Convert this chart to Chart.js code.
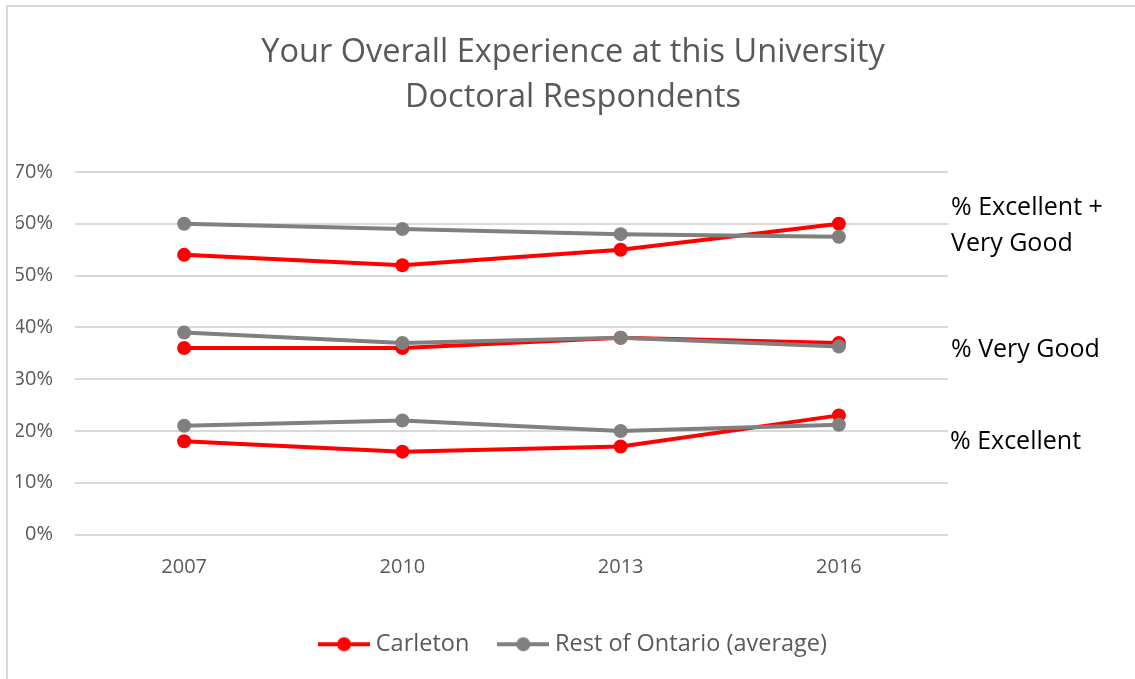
<!DOCTYPE html>
<html>
<head>
<meta charset="utf-8">
<script src="https://cdn.jsdelivr.net/npm/chart.js@4.4.0/dist/chart.umd.min.js"></script>
<style>
  html, body { margin: 0; padding: 0; background: #fff; }
  #wrap { width: 1135px; height: 679px; }
</style>
</head>
<body>
<div id="wrap"><canvas id="chart" width="1135" height="679"></canvas></div>
<script>
// values (percent)
const years = ['2007', '2010', '2013', '2016'];
const seriesNames = ['Carleton', 'Rest of Ontario (average)'];
const titleLines = ['Your Overall Experience at this University', 'Doctoral Respondents'];
const rowLabels = [['% Excellent +', 'Very Good'], ['% Very Good'], ['% Excellent']];

const carletonExcVg = [54, 52, 55, 60];
const ontarioExcVg = [60, 59, 58, 57.5];
const carletonVg = [36, 36, 38, 37];
const ontarioVg = [39, 37, 38, 36.3];
const carletonExc = [18, 16, 17, 23];
const ontarioExc = [21, 22, 20, 21.2];

const RED = '#ff0000';
const GREY = '#808080';
const FONT = '"Open Sans", "Liberation Sans", sans-serif';

function lineSet(label, data, color) {
  return {
    label: label,
    data: data,
    borderColor: color,
    backgroundColor: color,
    borderWidth: 4,
    pointRadius: 7,
    pointHoverRadius: 7,
    pointBorderWidth: 0,
    tension: 0,
  };
}

// grey first so it is drawn on top of the red
const datasets = [
  lineSet(seriesNames[1], ontarioExcVg, GREY),
  lineSet(seriesNames[1], ontarioVg, GREY),
  lineSet(seriesNames[1], ontarioExc, GREY),
  lineSet(seriesNames[0], carletonExcVg, RED),
  lineSet(seriesNames[0], carletonVg, RED),
  lineSet(seriesNames[0], carletonExc, RED),
];

// little line + dot used as the legend symbol
function legendSymbol(color) {
  const c = document.createElement('canvas');
  c.width = 52;
  c.height = 16;
  const g = c.getContext('2d');
  g.strokeStyle = color;
  g.lineWidth = 4;
  g.beginPath();
  g.moveTo(0, 8);
  g.lineTo(52, 8);
  g.stroke();
  g.fillStyle = color;
  g.beginPath();
  g.arc(26, 8, 7, 0, Math.PI * 2);
  g.fill();
  return c;
}

const extras = {
  id: 'extras',
  afterDraw(chart) {
    const ctx = chart.ctx;
    ctx.save();
    // outer frame (only top and left edges show)
    ctx.strokeStyle = '#d9d9d9';
    ctx.lineWidth = 2;
    ctx.strokeRect(7, 6, 1140, 700);
    // title
    ctx.fillStyle = '#595959';
    ctx.font = '32.5px ' + FONT;
    ctx.textAlign = 'center';
    ctx.textBaseline = 'middle';
    ctx.fillText(titleLines[0], 573, 53);
    ctx.fillText(titleLines[1], 573, 98);
    // row labels on the right
    ctx.fillStyle = '#000000';
    ctx.font = '25px ' + FONT;
    ctx.textAlign = 'left';
    ctx.fillText(rowLabels[0][0], 951, 208);
    ctx.fillText(rowLabels[0][1], 951, 244);
    ctx.fillText(rowLabels[1][0], 951, 350);
    ctx.fillText(rowLabels[2][0], 950, 442);
    ctx.restore();
  }
};

new Chart(document.getElementById('chart'), {
  type: 'line',
  data: { labels: years, datasets: datasets },
  plugins: [extras],
  options: {
    responsive: false,
    animation: false,
    layout: { padding: { top: 172, right: 0, bottom: 13, left: 16 } },
    plugins: {
      title: { display: false },
      tooltip: { enabled: false },
      legend: {
        position: 'bottom',
        labels: {
          usePointStyle: true,
          pointStyleWidth: 40,
          padding: 34,
          color: '#595959',
          font: { family: FONT, size: 23.5 },
          generateLabels: () => [
            { text: seriesNames[0], pointStyle: legendSymbol(RED), fontColor: '#595959', lineWidth: 0, strokeStyle: RED, fillStyle: RED, hidden: false },
            { text: seriesNames[1], pointStyle: legendSymbol(GREY), fontColor: '#595959', lineWidth: 0, strokeStyle: GREY, fillStyle: GREY, hidden: false },
          ],
        },
      },
    },
    scales: {
      x: {
        offset: true,
        grid: { display: false, drawTicks: false },
        border: { display: false },
        ticks: { color: '#595959', padding: 21, font: { family: FONT, size: 20 } },
        afterFit(scale) { scale.height = 64; },
      },
      y: {
        min: 0,
        max: 70,
        grid: { color: '#d9d9d9', lineWidth: 2, drawTicks: false },
        border: { display: false },
        ticks: {
          stepSize: 10,
          padding: 22,
          color: '#595959',
          font: { family: FONT, size: 20 },
          callback: v => v + '%',
        },
        afterFit(scale) { scale.width = 59; },
      },
      // empty axis that only reserves the space for the row labels
      side: {
        position: 'right',
        display: true,
        min: 0,
        max: 1,
        grid: { display: false, drawTicks: false },
        border: { display: false },
        ticks: { display: false },
        afterFit(scale) { scale.width = 187; },
      },
    },
  },
});
</script>
</body>
</html>
